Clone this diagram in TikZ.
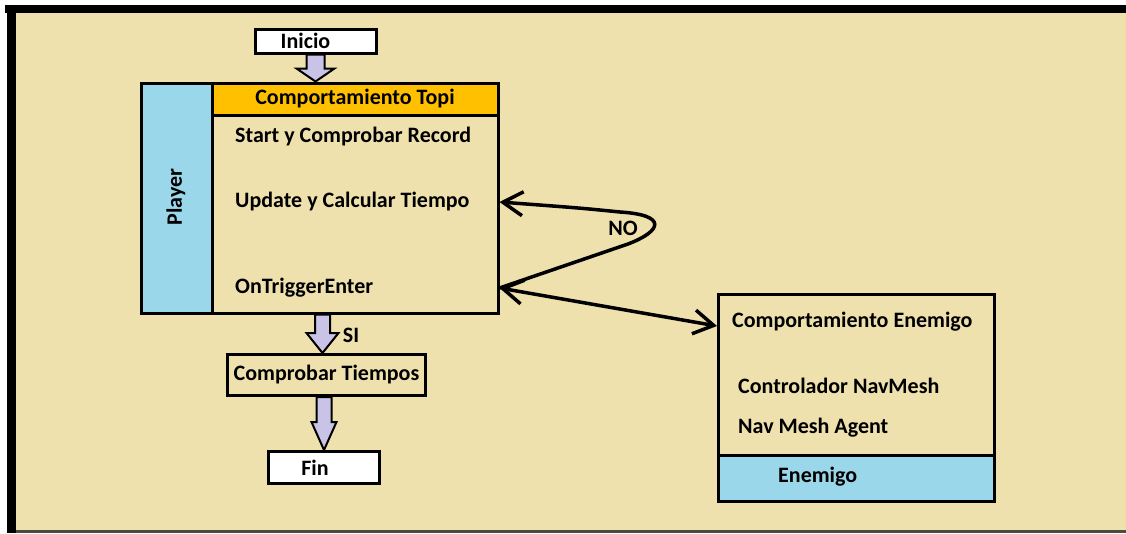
\documentclass[tikz,border=0pt]{standalone}
\usepackage{fontspec}
\setmainfont{Carlito}
\usetikzlibrary{arrows.meta,calc}
\definecolor{bg}{HTML}{EEE1AE}
\definecolor{gold}{HTML}{FFC000}
\definecolor{aqua}{HTML}{9AD7EA}
\definecolor{lav}{HTML}{C9C3E8}
\definecolor{bline}{HTML}{4E4A3C}
\newcommand\blockarr[5]{%
  \draw[blk] let \p1=(#1), \p2=(#2) in
    (\x1-#3,\y1) -- (\x1+#3,\y1) -- (\x1+#3,\y2+#5) -- (\x1+#4,\y2+#5) --
    (\x1,\y2) -- (\x1-#4,\y2+#5) -- (\x1-#3,\y2+#5) -- cycle;}
\begin{document}
\begin{tikzpicture}[x=1pt,y=-1pt,
  txt/.style={font=\fontsize{22}{24}\selectfont\bfseries, inner sep=0pt, text=black},
  lbl/.style={txt, anchor=west},
  termbox/.style={draw, line width=3pt, fill=white, inner sep=0pt, txt},
  frame/.style={draw, line width=3pt, inner sep=0pt},
  blk/.style={draw, line width=2pt, fill=lav, line join=miter},
  arr/.style={line width=3.5pt, -{Straight Barb[length=20pt,width=24pt]}},
  darr/.style={line width=3.5pt, {Straight Barb[length=20pt,width=24pt]}-{Straight Barb[length=20pt,width=24pt]}}]
\useasboundingbox (0,0) rectangle (1126,533);
\fill[white] (0,0) rectangle (1126,533);
\fill[bg] (16,13) rectangle (1126,530);
\fill[black] (5,5) rectangle (1126,13);
\fill[black] (7,5) rectangle (16,533);
\fill[bline] (16,530) rectangle (1126,533);

% Topi box
\fill[gold] (212.5,83) rectangle (498,115);
\fill[aqua] (141,83) rectangle (212.5,313);
\draw[line width=3pt] (212.5,83) -- (212.5,313);
\draw[line width=3pt] (212.5,115) -- (498,115);
\node[frame, minimum width=357pt, minimum height=230pt] (topi) at (319.5,198) {};
\node[txt] (hdr) at (355,99) {Comportamiento Topi};
\node[txt, rotate=90] (player) at (176,197) {Player};
\node[lbl] (st) at (235,137) {Start y Comprobar Record};
\node[lbl] (upd) at (235,202) {Update y Calcular Tiempo};
\node[lbl] (ote) at (235,288) {OnTriggerEnter};

% Inicio
\node[termbox, minimum width=121pt, minimum height=24pt] (ini) at (315.5,41) {\hspace*{-20pt}Inicio};

% Comprobar / Fin
\node[termbox, fill=none, minimum width=198pt, minimum height=41pt] (cmp) at (326.5,375) {Comprobar Tiempos};
\node[termbox, minimum width=111pt, minimum height=32pt] (fin) at (324,467.5) {\hspace*{-18pt}Fin};

% Enemigo box
\fill[aqua] (718.5,455) rectangle (994.5,501.5);
\draw[line width=3pt] (718.5,455) -- (994.5,455);
\node[frame, minimum width=276pt, minimum height=207pt] (ene) at (856.5,398) {};
\node[lbl] (ce) at (732,322) {Comportamiento Enemigo};
\node[lbl] (nav) at (738,386) {Controlador NavMesh};
\node[lbl] (agent) at (738,428) {Nav Mesh Agent};
\node[lbl] (enem) at (778,477) {Enemigo};

% block arrows
\blockarr{ini.south}{ini.south |- topi.north}{9pt}{19pt}{13pt}
\blockarr{$(topi.south -| cmp.north)+(-4,0)$}{$(cmp.north)+(-4,0)$}{7.5pt}{16pt}{20pt}
\blockarr{cmp.south -| fin.north}{fin.north}{7.5pt}{12.5pt}{28pt}
\node[txt] (si) at (351,335) {SI};

% connectors
\coordinate (updR) at (topi.east |- upd.west);
\coordinate (oteR) at (topi.east |- ote.west);
\coordinate (eneL) at ($(ene.west |- ce.west)+(0,4)$);
\draw[arr] (oteR) -- (628,244) .. controls (662,231) and (668,215) .. (620,212)
   .. controls (580,208) .. (updR);
\node[txt] (no) at (623,228) {NO};
\draw[darr] (oteR) -- (eneL);
\end{tikzpicture}
\end{document}
